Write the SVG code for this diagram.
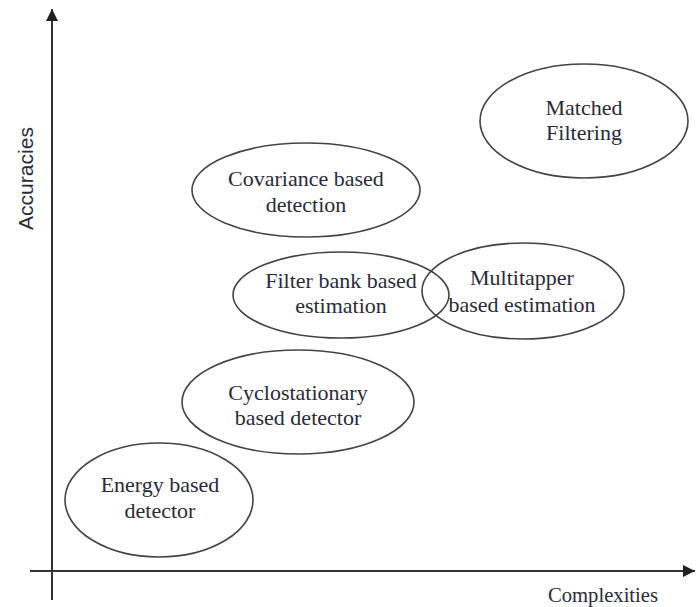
<svg xmlns="http://www.w3.org/2000/svg" width="696" height="607" viewBox="0 0 696 607">
<defs>
<marker id="arr" viewBox="0 0 10 10" refX="10" refY="5" markerWidth="6" markerHeight="6" markerUnits="strokeWidth" orient="auto">
<path d="M0,0 L10,5 L0,10 z" fill="#222"/>
</marker>
</defs>
<style>
.node ellipse{fill:none;stroke:#444;stroke-width:1.6}
.node text{font-family:"Liberation Serif","Times New Roman",serif;font-size:22px;fill:#2a2a3a;text-anchor:middle}
.axis{stroke:#333;stroke-width:2;fill:none}
.lbl{font-family:"Liberation Serif","Times New Roman",serif;font-size:22px;fill:#2a2a3a}
.ylbl{font-family:"Liberation Sans",Arial,sans-serif;font-size:21px;fill:#2a2a3a}
</style>
<rect width="696" height="607" fill="#fff"/>
<g id="connectors">
<line class="axis" x1="52" y1="600" x2="52" y2="9" marker-end="url(#arr)"/>
<line class="axis" x1="30" y1="571" x2="695" y2="571" marker-end="url(#arr)"/>
</g>
<text class="ylbl" x="0" y="0" transform="translate(33,230) rotate(-90)" textLength="103" lengthAdjust="spacingAndGlyphs">Accuracies</text>
<text class="lbl" x="548" y="602" textLength="110" lengthAdjust="spacingAndGlyphs">Complexities</text>
<g id="matched" class="node">
<ellipse cx="584" cy="121" rx="104" ry="57"/>
<text x="584" y="115">Matched</text>
<text x="584" y="140">Filtering</text>
</g>
<g id="covariance" class="node">
<ellipse cx="306" cy="190" rx="114" ry="47"/>
<text x="306" y="186">Covariance based</text>
<text x="306" y="212">detection</text>
</g>
<g id="filterbank" class="node">
<ellipse cx="341" cy="295" rx="108" ry="43"/>
<text x="341" y="288">Filter bank based</text>
<text x="341" y="313">estimation</text>
</g>
<g id="multitapper" class="node">
<ellipse cx="523" cy="291" rx="101" ry="48"/>
<text x="522" y="285">Multitapper</text>
<text x="522" y="312">based estimation</text>
</g>
<g id="cyclo" class="node">
<ellipse cx="298" cy="402" rx="116" ry="52"/>
<text x="298" y="400">Cyclostationary</text>
<text x="298" y="425">based detector</text>
</g>
<g id="energy" class="node">
<ellipse cx="159" cy="500" rx="94" ry="57"/>
<text x="160" y="492">Energy based</text>
<text x="160" y="518">detector</text>
</g>
</svg>
